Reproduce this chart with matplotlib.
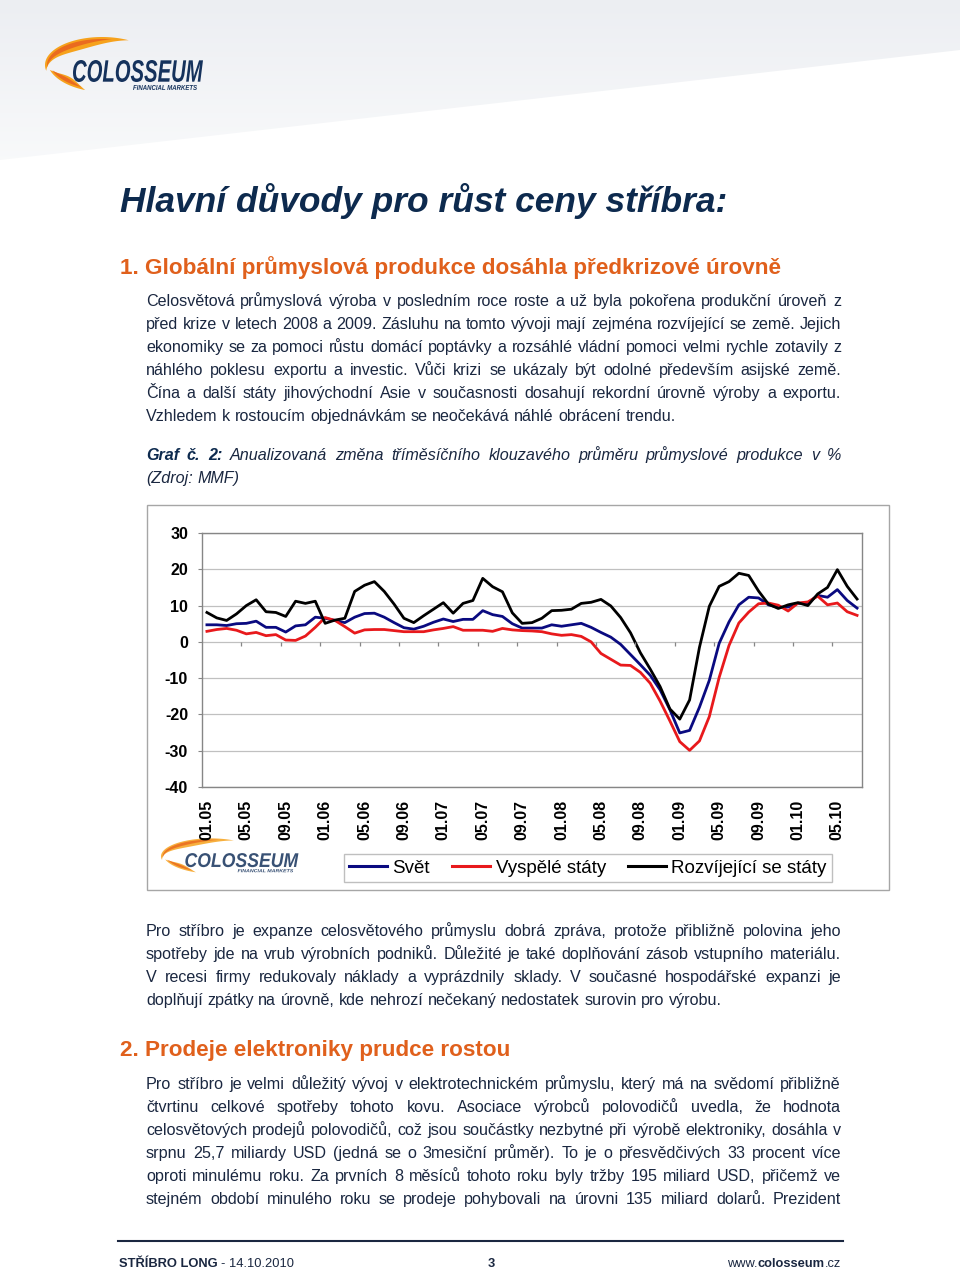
import numpy as np
import matplotlib
matplotlib.use('Agg')
import matplotlib.pyplot as plt
from matplotlib.patches import Rectangle, Polygon, PathPatch
from matplotlib.textpath import TextPath
from matplotlib.font_manager import FontProperties
from matplotlib.path import Path
from matplotlib.lines import Line2D
from matplotlib.colors import LinearSegmentedColormap

plt.rcParams['font.family'] = ['Liberation Sans', 'DejaVu Sans']

# data: monthly 01.05 - 07.10, annualised 3m moving average change of industrial production (%)
svet = [4.7, 4.7, 4.5, 5.0, 5.1, 5.7, 4.0, 4.0, 2.7, 4.4, 4.7, 6.8,
        6.5, 5.9, 5.3, 6.8, 7.8, 7.9, 6.8, 5.3, 3.9, 3.5, 4.3, 5.4,
        6.3, 5.6, 6.2, 6.2, 8.6, 7.5, 7.0, 5.0, 3.8, 3.8, 3.8, 4.7,
        4.3, 4.7, 5.1, 4.0, 2.6, 1.3, -0.7, -3.5, -6.3, -9.2, -13.2, -18.7,
        -25.1, -24.4, -18.0, -10.6, -0.4, 5.5, 10.2, 12.3, 12.1, 10.2, 9.5, 9.6,
        10.6, 10.7, 12.8, 12.3, 14.4, 11.4, 9.3]
vyspele = [2.9, 3.4, 3.7, 3.2, 2.2, 2.6, 1.7, 2.0, 0.5, 0.4, 1.6, 4.0,
           6.7, 5.9, 4.2, 2.4, 3.3, 3.4, 3.4, 3.1, 2.8, 2.8, 2.8, 3.3,
           3.7, 4.2, 3.2, 3.2, 3.2, 2.9, 3.7, 3.3, 3.1, 3.0, 2.8, 2.2,
           1.8, 2.0, 1.5, 0.0, -3.2, -4.8, -6.4, -6.5, -8.4, -11.4, -16.3, -21.8,
           -27.5, -29.9, -27.3, -20.6, -9.8, -1.0, 5.2, 8.2, 10.5, 10.7, 10.1, 8.5,
           10.7, 11.0, 12.6, 10.2, 10.7, 8.3, 7.3]
rozvijejici = [8.1, 6.6, 5.9, 7.7, 10.0, 11.6, 8.3, 8.1, 7.0, 11.2, 10.6, 11.2,
               5.1, 6.0, 6.5, 13.9, 15.6, 16.6, 13.9, 10.4, 6.5, 5.3, 7.2, 9.0,
               10.8, 7.9, 10.6, 11.4, 17.5, 15.2, 13.8, 8.0, 5.1, 5.3, 6.5, 8.6,
               8.7, 9.0, 10.6, 10.9, 11.7, 9.9, 6.7, 2.5, -3.0, -7.5, -12.3, -18.5,
               -21.3, -16.0, -1.5, 9.8, 15.3, 16.6, 18.9, 18.3, 14.0, 10.4, 9.2, 10.2,
               10.8, 10.0, 13.2, 15.0, 19.9, 15.3, 11.8]
tick_labels = ['01.05', '05.05', '09.05', '01.06', '05.06', '09.06', '01.07', '05.07', '09.07',
               '01.08', '05.08', '09.08', '01.09', '05.09', '09.09', '01.10', '05.10']
y_ticks = [-40, -30, -20, -10, 0, 10, 20, 30]
series_names = ['Svět', 'Vyspělé státy', 'Rozvíjející se státy']

NAVY = '#0d2a4e'
TEXT = '#1a2740'
ORANGE = '#e0601c'

fig = plt.figure(figsize=(9.6, 12.71), dpi=100)
page = fig.add_axes([0, 0, 1, 1])
page.axis('off')
renderer = fig.canvas.get_renderer()

# header background
grad = np.linspace(0, 1, 256).reshape(-1, 1)
cm = LinearSegmentedColormap.from_list('hd', ['#eceef2', '#f9fafb'])
im = page.imshow(grad, extent=[0, 960, 170, 0], cmap=cm, aspect='auto', zorder=0)
clip = Polygon([(0, 0), (960, 0), (960, 50), (0, 160)], closed=True, facecolor='none', edgecolor='none')
page.add_patch(clip)
im.set_clip_path(clip)
page.set_xlim(0, 960)
page.set_ylim(1271, 0)


def text_w(s, **kw):
    t = page.text(0, 0, s, **kw)
    w = t.get_window_extent(renderer).width
    t.remove()
    return w


def path_in_box(s, x0, x1, ytop, ybase, color, alpha=1.0):
    fp = FontProperties(family='Liberation Sans', weight='bold', style='italic')
    tp = TextPath((0, 0), s, size=30, prop=fp)
    v = tp.vertices
    xmin, xmax = v[:, 0].min(), v[:, 0].max()
    ymin, ymax = v[:, 1].min(), v[:, 1].max()
    sx = (x1 - x0) / (xmax - xmin)
    sy = (ybase - ytop) / (ymax - ymin)
    v2 = np.column_stack([x0 + (v[:, 0] - xmin) * sx, ybase - (v[:, 1] - ymin) * sy])
    page.add_patch(PathPatch(Path(v2, tp.codes), facecolor=color, edgecolor='none',
                             alpha=alpha, zorder=3))


def crescent(cx, cy, a, b, t0, t1, th, color, alpha=1.0):
    t = np.radians(np.linspace(t0, t1, 60))
    w = th * np.sin(np.linspace(0, np.pi, 60))
    outer = np.column_stack([cx + a * np.cos(t), cy - b * np.sin(t)])
    inner = np.column_stack([cx + (a - w) * np.cos(t), cy - (b - w) * np.sin(t)])
    page.add_patch(Polygon(np.vstack([outer, inner[::-1]]), closed=True, facecolor=color,
                           edgecolor='none', alpha=alpha, zorder=2))


def logo(x, y, s, sv=None, alpha=1.0):
    # x, y = left / top of swoosh, s = horizontal scale, sv = vertical scale
    sv = s if sv is None else sv
    crescent(x + 57 * s, y + 27 * sv, 57 * s, 28 * sv, 62, 192, 11 * sv, '#f6a21c', alpha)
    crescent(x + 57 * s, y + 27 * sv, 55 * s, 26 * sv, 80, 185, 5 * sv, '#ea6b1f', alpha)
    crescent(x + 60 * s, y + 22 * sv, 58 * s, 32 * sv, 198, 250, 8 * sv, '#f6a21c', alpha)
    crescent(x + 60 * s, y + 22 * sv, 56 * s, 30 * sv, 200, 245, 4 * sv, '#ea6b1f', alpha)
    path_in_box('COLOSSEUM', x + 27 * s, x + 158 * s, y + 22 * sv, y + 44 * sv, '#15325c', alpha)
    path_in_box('FINANCIAL MARKETS', x + 88 * s, x + 152 * s, y + 47 * sv, y + 52 * sv, '#15325c', alpha)


logo(45, 38, 1.0)

# title and headings
page.text(120, 212, 'Hlavní důvody pro růst ceny stříbra:', fontsize=25.5, fontweight='bold',
          fontstyle='italic', color=NAVY, va='baseline')
page.text(120, 274, '1. Globální průmyslová produkce dosáhla předkrizové úrovně', fontsize=16.2,
          fontweight='bold', color=ORANGE, va='baseline')
page.text(120, 1056, '2. Prodeje elektroniky prudce rostou', fontsize=16.2,
          fontweight='bold', color=ORANGE, va='baseline')

BODY = dict(fontsize=11.6, color=TEXT)


def justify(words, y, last=False, x0=146, x1=841):
    styles = [dict(BODY, **st) for w, st in words]
    widths = [text_w(w, **kw) for (w, st), kw in zip(words, styles)]
    if last or len(words) == 1:
        gap = text_w('a a', **BODY) - text_w('aa', **BODY)
    else:
        gap = (x1 - x0 - sum(widths)) / (len(words) - 1)
    x = x0
    for (w, st), kw, wd in zip(words, styles, widths):
        page.text(x, y, w, va='baseline', ha='left', **kw)
        x += wd + gap


def paragraph(lines, y0, step=23):
    for k, line in enumerate(lines):
        justify([(w, {}) for w in line.split()], y0 + k * step, last=(k == len(lines) - 1))


p1 = ['Celosvětová průmyslová výroba v posledním roce roste a už byla pokořena produkční úroveň z',
      'před krize v letech 2008 a 2009. Zásluhu na tomto vývoji mají zejména rozvíjející se země. Jejich',
      'ekonomiky se za pomoci růstu domácí poptávky a rozsáhlé vládní pomoci velmi rychle zotavily z',
      'náhlého poklesu exportu a investic. Vůči krizi se ukázaly být odolné především asijské země.',
      'Čína a další státy jihovýchodní Asie v současnosti dosahují rekordní úrovně výroby a exportu.',
      'Vzhledem k rostoucím objednávkám se neočekává náhlé obrácení trendu.']
p2 = ['Pro stříbro je expanze celosvětového průmyslu dobrá zpráva, protože přibližně polovina jeho',
      'spotřeby jde na vrub výrobních podniků. Důležité je také doplňování zásob vstupního materiálu.',
      'V recesi firmy redukovaly náklady a vyprázdnily sklady. V současné hospodářské expanzi je',
      'doplňují zpátky na úrovně, kde nehrozí nečekaný nedostatek surovin pro výrobu.']
p3 = ['Pro stříbro je velmi důležitý vývoj v elektrotechnickém průmyslu, který má na svědomí přibližně',
      'čtvrtinu celkové spotřeby tohoto kovu. Asociace výrobců polovodičů uvedla, že hodnota',
      'celosvětových prodejů polovodičů, což jsou součástky nezbytné při výrobě elektroniky, dosáhla v',
      'srpnu 25,7 miliardy USD (jedná se o 3mesiční průměr). To je o přesvědčivých 33 procent více',
      'oproti minulému roku. Za prvních 8 měsíců tohoto roku byly tržby 195 miliard USD, přičemž ve',
      'stejném období minulého roku se prodeje pohybovali na úrovni 135 miliard dolarů. Prezident']

paragraph(p1, 306)
paragraph(p2, 936)
# last line of p3 continues on the next page -> justified too
for k, line in enumerate(p3):
    justify([(w, {}) for w in line.split()], 1089 + k * 23)

# caption
bi = {'fontweight': 'bold', 'fontstyle': 'italic', 'color': NAVY}
it = {'fontstyle': 'italic'}
cap = [('Graf', bi), ('č.', bi), ('2:', bi)] + [(w, it) for w in
       'Anualizovaná změna tříměsíčního klouzavého průměru průmyslové produkce v %'.split()]
justify(cap, 460)
justify([('(Zdroj:', it), ('MMF)', it)], 483, last=True)

# chart frame
page.add_patch(Rectangle((147, 505), 742, 385, facecolor='white', edgecolor='#a6a6a6', lw=1, zorder=1))
logo(161, 839, 0.87, sv=0.64, alpha=0.85)

ax = fig.add_axes([202 / 960, 1 - 787 / 1271, 660 / 960, 254 / 1271])
x = np.arange(len(svet))
ax.plot(x, svet, color='#0a0a80', lw=2.0, label=series_names[0])
ax.plot(x, vyspele, color='#e8191c', lw=2.0, label=series_names[1])
ax.plot(x, rozvijejici, color='black', lw=2.0, label=series_names[2])
ax.set_xlim(-0.5, len(svet) - 0.5)
ax.set_ylim(-40, 30)
ax.set_yticks(y_ticks)
ax.set_yticklabels([str(v) for v in y_ticks], fontweight='bold', fontsize=11.5)
ax.set_xticks(np.arange(0, len(svet), 4))
ax.set_xticklabels(tick_labels, rotation=90, fontweight='bold', fontsize=11.5, va='top')
ax.tick_params(axis='y', length=3, direction='out', color='#868686', pad=7)
ax.tick_params(axis='x', length=0, pad=9)
ax.grid(axis='y', color='#c0c0c0', lw=0.9)
ax.set_axisbelow(True)
ax.vlines(np.arange(3.5, len(svet) - 1, 4), -1.2, 0, color='#868686', lw=0.9)
for sp in ax.spines.values():
    sp.set_color('#868686')
    sp.set_linewidth(1)

handles = [Line2D([], [], color=c, lw=2.2) for c in ['#0a0a80', '#e8191c', 'black']]
fig.legend(handles, series_names, loc='center', bbox_to_anchor=(588 / 960, 1 - 868 / 1271),
           ncol=3, frameon=True, fancybox=False, edgecolor='#b0b0b0', fontsize=13.5,
           handlelength=2.0, handletextpad=0.3, columnspacing=1.2, borderpad=0.3)

# footer
page.plot([118, 843], [1241, 1241], color=TEXT, lw=1.5)
FT = dict(fontsize=9.3, color=TEXT, va='baseline')
page.text(119, 1267, 'STŘÍBRO LONG', fontweight='bold', **FT)
xs = 119 + text_w('STŘÍBRO LONG', fontsize=9.3, fontweight='bold') + text_w('a a', fontsize=9.3) - text_w('aa', fontsize=9.3)
page.text(xs, 1267, '- 14.10.2010', **FT)
page.text(491, 1267, '3', fontweight='bold', ha='center', **FT)
xr = 841
page.text(xr, 1267, '.cz', ha='right', **FT)
xr -= text_w('.cz', fontsize=9.3)
page.text(xr, 1267, 'colosseum', ha='right', fontweight='bold', **FT)
xr -= text_w('colosseum', fontsize=9.3, fontweight='bold')
page.text(xr, 1267, 'www.', ha='right', **FT)

fig.savefig('out.png', dpi=100)
